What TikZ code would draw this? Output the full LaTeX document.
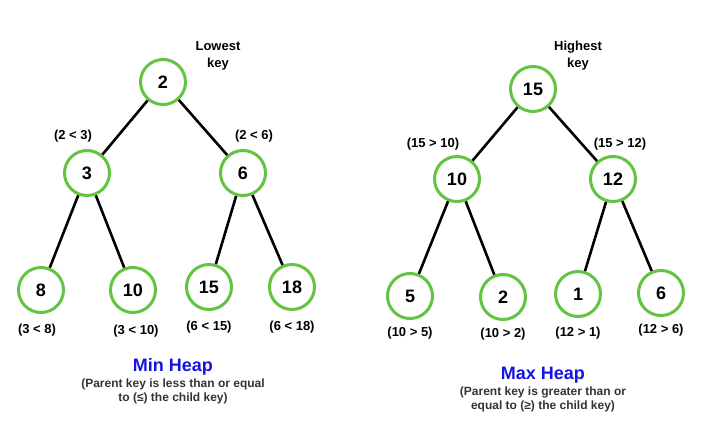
\documentclass[tikz,border=0pt]{standalone}
\usepackage{fontspec}
\setmainfont{Liberation Sans}
\definecolor{heapgreen}{RGB}{98,196,64}
\definecolor{heapblue}{RGB}{20,20,225}

\begin{document}
\begin{tikzpicture}[x=1pt,y=-1pt,
	key/.style={circle,draw=heapgreen,line width=3pt,minimum size=45pt,inner sep=0pt,font=\fontsize{18}{18}\selectfont\bfseries},
	rel/.style={font=\fontsize{13}{15}\selectfont\bfseries},
	note/.style={align=center,font=\fontsize{13}{17}\selectfont\bfseries},
	title/.style={font=\fontsize{18}{18}\selectfont\bfseries,text=heapblue},
	rule/.style={align=center,text=black!80,font=\fontsize{12}{14}\selectfont\bfseries},
	link/.style={line width=2.6pt}]
	\useasboundingbox (0,0) rectangle (717,436);
	% min heap
	\foreach \n/\x/\y/\val in {a/163/82/2, b/87/173/3, c/243/173/6, d/41/290/8, e/133/290/10, f/209/287/15, g/292/287/18} {
		\node[key] (min\n) at (\x,\y) {\val};
	}
	\foreach \p/\c in {a/b,a/c,b/d,b/e,c/f,c/g} {
		\draw[link] (min\p) -- (min\c);
	}
	\node[note] (minnote) at (218,56) {Lowest\\key};
	\node[rel] (minrb) at (73,136) {(2 < 3)};
	\node[rel] (minrc) at (254,136) {(2 < 6)};
	\node[rel] (minrd) at (37,330) {(3 < 8)};
	\node[rel] (minre) at (136,331) {(3 < 10)};
	\node[rel] (minrf) at (209,327) {(6 < 15)};
	\node[rel] (minrg) at (292,327) {(6 < 18)};
	\node[title] (mintitle) at (173,367) {Min Heap};
	\node[rule] (minrule) at (173,391) {(Parent key is less than or equal\\to (≤) the child key)};
	% max heap
	\foreach \n/\x/\y/\val in {a/533/89/15, b/457/179/10, c/613/179/12, d/410/296/5, e/503/297/2, f/578/294/1, g/661/293/6} {
		\node[key] (max\n) at (\x,\y) {\val};
	}
	\foreach \p/\c in {a/b,a/c,b/d,b/e,c/f,c/g} {
		\draw[link] (max\p) -- (max\c);
	}
	\node[note] (maxnote) at (578,56) {Highest\\key};
	\node[rel] (maxrb) at (433,144) {(15 > 10)};
	\node[rel] (maxrc) at (620,144) {(15 > 12)};
	\node[rel] (maxrd) at (410,333) {(10 > 5)};
	\node[rel] (maxre) at (503,334) {(10 > 2)};
	\node[rel] (maxrf) at (578,333) {(12 > 1)};
	\node[rel] (maxrg) at (661,330) {(12 > 6)};
	\node[title] (maxtitle) at (543,375) {Max Heap};
	\node[rule] (maxrule) at (543,399) {(Parent key is greater than or\\equal to (≥) the child key)};
\end{tikzpicture}
\end{document}
